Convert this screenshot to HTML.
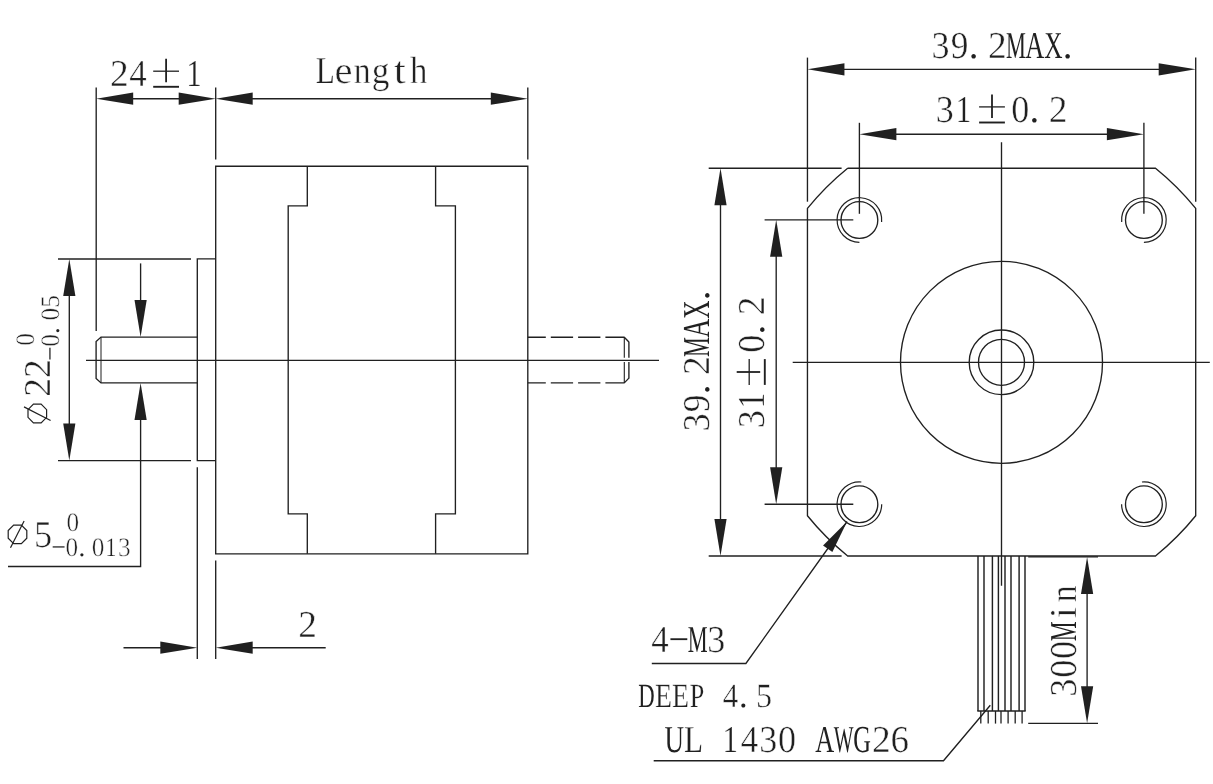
<!DOCTYPE html>
<html><head><meta charset="utf-8"><title>Stepper motor drawing</title>
<style>
html,body{margin:0;padding:0;background:#fff;}
body{width:1213px;height:784px;overflow:hidden;}
svg{display:block;}
svg text{font-family:"Liberation Serif",serif;fill:#231f20;stroke:#fff;vector-effect:non-scaling-stroke;paint-order:fill stroke;text-rendering:geometricPrecision;}
svg{filter:grayscale(1);}
</style></head><body>
<svg width="1213" height="784" viewBox="0 0 1213 784" fill="none" stroke="#231f20" stroke-linecap="butt" stroke-linejoin="miter">
<path d="M215.7,166.25 H527.8 V553.8 H215.7 Z" stroke-width="1.35"/>
<path d="M307.3,166.25 V205.9 H288.2 V513.8 H307.3 V553.8" stroke-width="1.35"/>
<path d="M435.6,166.25 V205.9 H455.4 V513.8 H435.6 V553.8" stroke-width="1.35"/>
<path d="M215.7,258.9 H197.3 V460.6 H215.7" stroke-width="1.35"/>
<path d="M197.3,337.1 H101 L96.1,341.6 V378.4 L101,382.9 H197.3" stroke-width="1.35"/>
<line x1="101" y1="337.1" x2="101" y2="382.9" stroke-width="1"/>
<line x1="527.8" y1="337.2" x2="624.6" y2="337.2" stroke-width="1.35" stroke-dasharray="22.3 5" stroke-dashoffset="4.3"/>
<line x1="527.8" y1="382.9" x2="624.6" y2="382.9" stroke-width="1.35" stroke-dasharray="22.3 5" stroke-dashoffset="4.3"/>
<line x1="624.3" y1="337.2" x2="628.9" y2="342" stroke-width="1.35"/>
<line x1="624.3" y1="382.9" x2="628.9" y2="378.1" stroke-width="1.35"/>
<line x1="628.9" y1="341.7" x2="628.9" y2="378.4" stroke-width="1.35" stroke-dasharray="16 4.4 20"/>
<line x1="624.3" y1="337.2" x2="624.3" y2="382.9" stroke-width="1.1" stroke-dasharray="20.5 4.4 22"/>
<line x1="86" y1="360.35" x2="659" y2="360.35" stroke-width="1.35"/>
<line x1="96.2" y1="87.5" x2="96.2" y2="331" stroke-width="1.35"/>
<line x1="215.7" y1="87.5" x2="215.7" y2="159.6" stroke-width="1.35"/>
<line x1="527.8" y1="87.5" x2="527.8" y2="159.6" stroke-width="1.35"/>
<line x1="126.2" y1="98.7" x2="185.7" y2="98.7" stroke-width="1.35"/>
<polygon points="96.2,98.7 133.2,92.6 133.2,104.8" fill="#231f20" stroke="none"/>
<polygon points="215.7,98.7 178.7,104.8 178.7,92.6" fill="#231f20" stroke="none"/>
<line x1="245.7" y1="98.7" x2="497.8" y2="98.7" stroke-width="1.35"/>
<polygon points="215.7,98.7 252.7,92.6 252.7,104.8" fill="#231f20" stroke="none"/>
<polygon points="527.8,98.7 490.8,104.8 490.8,92.6" fill="#231f20" stroke="none"/>
<text transform="translate(119.1,85.8) scale(0.9847,1)" x="-9.29" y="0" font-size="38" style="stroke-width:0.45px">2</text>
<text transform="translate(137.9,85.8) scale(0.9171,1)" x="-9.57" y="0" font-size="38" style="stroke-width:0.45px">4</text>
<line x1="153.2" y1="71.2" x2="179" y2="71.2" stroke-width="1.3"/>
<line x1="166.1" y1="58.7" x2="166.1" y2="82.2" stroke-width="1.8"/>
<line x1="153.2" y1="86.8" x2="179" y2="86.8" stroke-width="1.9"/>
<text transform="translate(194.3,85.8) scale(0.8148,1)" x="-10.03" y="0" font-size="38" style="stroke-width:0.25px">1</text>
<text transform="translate(324.7,82.5) scale(0.8218,1)" x="-11.01" y="0" font-size="38" style="stroke-width:0.25px">L</text>
<text transform="translate(343.5,82.5) scale(1.0665,1)" x="-8.52" y="0" font-size="38" style="stroke-width:0.45px">e</text>
<text transform="translate(362.3,82.5) scale(0.8888,1)" x="-9.65" y="0" font-size="38" style="stroke-width:0.45px">n</text>
<text transform="translate(381.1,82.5) scale(0.9313,1)" x="-9.95" y="0" font-size="38" style="stroke-width:0.45px">g</text>
<text transform="translate(399.9,82.5) scale(1.1441,1)" x="-5.35" y="0" font-size="38" style="stroke-width:0.45px">t</text>
<text transform="translate(418.7,82.5) scale(0.9157,1)" x="-9.44" y="0" font-size="38" style="stroke-width:0.45px">h</text>
<line x1="58" y1="259" x2="191" y2="259" stroke-width="1.35"/>
<line x1="58" y1="460.6" x2="191" y2="460.6" stroke-width="1.35"/>
<line x1="69.3" y1="289" x2="69.3" y2="430.6" stroke-width="1.35"/>
<polygon points="69.3,259 75.4,296 63.2,296" fill="#231f20" stroke="none"/>
<polygon points="69.3,460.6 63.2,423.6 75.4,423.6" fill="#231f20" stroke="none"/>
<line x1="140.6" y1="263.4" x2="140.6" y2="307.1" stroke-width="1.35"/>
<polygon points="140.6,337.1 134.5,300.1 146.7,300.1" fill="#231f20" stroke="none"/>
<polygon points="140.6,382.9 146.7,419.9 134.5,419.9" fill="#231f20" stroke="none"/>
<path d="M140.6,412.9 V566.5 H8" stroke-width="1.35"/>
<line x1="197.3" y1="467.3" x2="197.3" y2="659" stroke-width="1.35"/>
<line x1="215.7" y1="560.4" x2="215.7" y2="659" stroke-width="1.35"/>
<line x1="123.5" y1="647.7" x2="167.3" y2="647.7" stroke-width="1.35"/>
<polygon points="197.3,647.7 160.3,653.8 160.3,641.6" fill="#231f20" stroke="none"/>
<line x1="245.7" y1="647.7" x2="325.7" y2="647.7" stroke-width="1.35"/>
<polygon points="215.7,647.7 252.7,641.6 252.7,653.8" fill="#231f20" stroke="none"/>
<text transform="translate(307.3,637) scale(0.9847,1)" x="-9.29" y="0" font-size="38" style="stroke-width:0.45px">2</text>
<g transform="translate(17.5,547.4)">
<polygon points="9.3,-9.15 3.85,-3.7 -3.85,-3.7 -9.3,-9.15 -9.3,-16.85 -3.85,-22.3 3.85,-22.3 9.3,-16.85" stroke-width="1.2"/>
<line x1="-7" y1="0.3" x2="6.6" y2="-26.3" stroke-width="1.2"/>
<text transform="translate(26,0) scale(0.9538,1)" x="-9.86" y="0" font-size="38" style="stroke-width:0.45px">5</text>
<text transform="translate(41.2,3.31) scale(1.7121,0.65)" x="-4.44" y="0" font-size="26.6" style="stroke:none">-</text>
<text transform="translate(54.35,8.2) scale(0.9500,1)" x="-6.65" y="0" font-size="26.6" style="stroke-width:0.45px">0</text>
<text transform="translate(64.3,8.2) scale(1.0244,1)" x="-3.32" y="0" font-size="26.6" style="stroke:none">.</text>
<text transform="translate(80.65,8.2) scale(0.9500,1)" x="-6.65" y="0" font-size="26.6" style="stroke-width:0.45px">0</text>
<text transform="translate(93.8,8.2) scale(0.8148,1)" x="-7.02" y="0" font-size="26.6" style="stroke-width:0.25px">1</text>
<text transform="translate(106.95,8.2) scale(0.9492,1)" x="-6.77" y="0" font-size="26.6" style="stroke-width:0.45px">3</text>
<text transform="translate(55.35,-16) scale(0.9500,1)" x="-6.65" y="0" font-size="26.6" style="stroke-width:0.45px">0</text>
</g>
<g transform="translate(50.3,413.5) rotate(-90)">
<polygon points="9.3,-9.15 3.85,-3.7 -3.85,-3.7 -9.3,-9.15 -9.3,-16.85 -3.85,-22.3 3.85,-22.3 9.3,-16.85" stroke-width="1.2"/>
<line x1="-7" y1="0.3" x2="6.6" y2="-26.3" stroke-width="1.2"/>
<text transform="translate(26,0) scale(0.9847,1)" x="-9.29" y="0" font-size="38" style="stroke-width:0.45px">2</text>
<text transform="translate(44.6,0) scale(0.9847,1)" x="-9.29" y="0" font-size="38" style="stroke-width:0.45px">2</text>
<text transform="translate(59.8,3.31) scale(1.7121,0.65)" x="-4.44" y="0" font-size="26.6" style="stroke:none">-</text>
<text transform="translate(72.95,8.2) scale(0.9500,1)" x="-6.65" y="0" font-size="26.6" style="stroke-width:0.45px">0</text>
<text transform="translate(82.9,8.2) scale(1.0244,1)" x="-3.32" y="0" font-size="26.6" style="stroke:none">.</text>
<text transform="translate(99.25,8.2) scale(0.9500,1)" x="-6.65" y="0" font-size="26.6" style="stroke-width:0.45px">0</text>
<text transform="translate(112.4,8.2) scale(0.9538,1)" x="-6.9" y="0" font-size="26.6" style="stroke-width:0.45px">5</text>
<text transform="translate(73.95,-16) scale(0.9500,1)" x="-6.65" y="0" font-size="26.6" style="stroke-width:0.45px">0</text>
</g>
<path d="M847.6500000000001,168.2 H1155.5 A270,270 0 0 1 1195.7,208.39999999999998 V515.75 A270,270 0 0 1 1155.5,555.95 H847.6500000000001 A270,270 0 0 1 807.45,515.75 V208.39999999999998 A270,270 0 0 1 847.6500000000001,168.2" stroke-width="1.35"/>
<circle cx="1001.5" cy="362.3" r="101" stroke-width="1.35"/>
<circle cx="1001.5" cy="362.3" r="32.3" stroke-width="1.35"/>
<circle cx="1001.5" cy="362.3" r="23" stroke-width="1.35"/>
<circle cx="859.4" cy="220" r="18.4" stroke-width="1.35"/>
<circle cx="1143.9" cy="220" r="18.4" stroke-width="1.35"/>
<circle cx="859.4" cy="504.2" r="18.4" stroke-width="1.35"/>
<circle cx="1143.9" cy="504.2" r="18.4" stroke-width="1.35"/>
<path d="M881.62,221.94 A22.3,22.3 0 1 0 859.4,242.3" stroke-width="1.2"/>
<path d="M1121.68,221.94 A22.3,22.3 0 1 1 1143.9,242.3" stroke-width="1.2"/>
<path d="M861.34,481.98 A22.3,22.3 0 1 0 881.7,504.2" stroke-width="1.2"/>
<path d="M1141.96,481.98 A22.3,22.3 0 1 1 1121.6,504.2" stroke-width="1.2"/>
<line x1="1001.5" y1="142.3" x2="1001.5" y2="585.7" stroke-width="1.35"/>
<line x1="792.7" y1="362.3" x2="1209.8" y2="362.3" stroke-width="1.35"/>
<line x1="807.45" y1="57.6" x2="807.45" y2="201.7" stroke-width="1.35"/>
<line x1="1195.7" y1="57.6" x2="1195.7" y2="201.7" stroke-width="1.35"/>
<line x1="837.45" y1="69.3" x2="1165.7" y2="69.3" stroke-width="1.35"/>
<polygon points="807.45,69.3 844.45,63.2 844.45,75.4" fill="#231f20" stroke="none"/>
<polygon points="1195.7,69.3 1158.7,75.4 1158.7,63.2" fill="#231f20" stroke="none"/>
<text transform="translate(940.7,57.6) scale(0.9492,1)" x="-9.67" y="0" font-size="38" style="stroke-width:0.45px">3</text>
<text transform="translate(959.5,57.6) scale(0.9311,1)" x="-9.33" y="0" font-size="38" style="stroke-width:0.45px">9</text>
<text transform="translate(973.6,57.6) scale(1.0244,1)" x="-4.75" y="0" font-size="38" style="stroke:none">.</text>
<text transform="translate(997.1,57.6) scale(0.9847,1)" x="-9.29" y="0" font-size="38" style="stroke-width:0.45px">2</text>
<text transform="translate(1015.9,57.6) scale(0.5890,1)" x="-16.88" y="0" font-size="38" style="stroke:none">M</text>
<text transform="translate(1034.7,57.6) scale(0.6905,1)" x="-13.77" y="0" font-size="38" style="stroke:none">A</text>
<text transform="translate(1053.5,57.6) scale(0.6674,1)" x="-13.8" y="0" font-size="38" style="stroke:none">X</text>
<text transform="translate(1067.6,57.6) scale(1.0244,1)" x="-4.75" y="0" font-size="38" style="stroke:none">.</text>
<line x1="859.4" y1="122.8" x2="859.4" y2="213.8" stroke-width="1.35"/>
<line x1="1143.9" y1="122.8" x2="1143.9" y2="213.8" stroke-width="1.35"/>
<line x1="889.4" y1="134.2" x2="1113.9" y2="134.2" stroke-width="1.35"/>
<polygon points="859.4,134.2 896.4,128.1 896.4,140.3" fill="#231f20" stroke="none"/>
<polygon points="1143.9,134.2 1106.9,140.3 1106.9,128.1" fill="#231f20" stroke="none"/>
<text transform="translate(945,121.5) scale(0.9492,1)" x="-9.67" y="0" font-size="38" style="stroke-width:0.45px">3</text>
<text transform="translate(963.8,121.5) scale(0.8148,1)" x="-10.03" y="0" font-size="38" style="stroke-width:0.25px">1</text>
<line x1="979.1" y1="106.9" x2="1004.9" y2="106.9" stroke-width="1.3"/>
<line x1="992" y1="94.4" x2="992" y2="117.9" stroke-width="1.8"/>
<line x1="979.1" y1="122.5" x2="1004.9" y2="122.5" stroke-width="1.9"/>
<text transform="translate(1020.2,121.5) scale(0.9500,1)" x="-9.5" y="0" font-size="38" style="stroke-width:0.45px">0</text>
<text transform="translate(1034.3,121.5) scale(1.0244,1)" x="-4.75" y="0" font-size="38" style="stroke:none">.</text>
<text transform="translate(1057.8,121.5) scale(0.9847,1)" x="-9.29" y="0" font-size="38" style="stroke-width:0.45px">2</text>
<line x1="708.7" y1="168.2" x2="841.6" y2="168.2" stroke-width="1.35"/>
<line x1="708.7" y1="555.95" x2="841.6" y2="555.95" stroke-width="1.35"/>
<line x1="720.5" y1="198.2" x2="720.5" y2="525.95" stroke-width="1.35"/>
<polygon points="720.5,168.2 726.6,205.2 714.4,205.2" fill="#231f20" stroke="none"/>
<polygon points="720.5,555.95 714.4,518.95 726.6,518.95" fill="#231f20" stroke="none"/>
<line x1="764.6" y1="219.8" x2="853.3" y2="219.8" stroke-width="1.35"/>
<line x1="764.6" y1="504.2" x2="853.3" y2="504.2" stroke-width="1.35"/>
<line x1="776.2" y1="250" x2="776.2" y2="474.2" stroke-width="1.35"/>
<polygon points="776.2,219.8 782.3,256.8 770.1,256.8" fill="#231f20" stroke="none"/>
<polygon points="776.2,504.2 770.1,467.2 782.3,467.2" fill="#231f20" stroke="none"/>
<g transform="translate(709.4,0) rotate(-90)">
<text transform="translate(-422.3,0) scale(0.9492,1)" x="-9.67" y="0" font-size="38" style="stroke-width:0.45px">3</text>
<text transform="translate(-403.5,0) scale(0.9311,1)" x="-9.33" y="0" font-size="38" style="stroke-width:0.45px">9</text>
<text transform="translate(-389.4,0) scale(1.0244,1)" x="-4.75" y="0" font-size="38" style="stroke:none">.</text>
<text transform="translate(-365.9,0) scale(0.9847,1)" x="-9.29" y="0" font-size="38" style="stroke-width:0.45px">2</text>
<text transform="translate(-347.1,0) scale(0.5890,1)" x="-16.88" y="0" font-size="38" style="stroke:none">M</text>
<text transform="translate(-328.3,0) scale(0.6905,1)" x="-13.77" y="0" font-size="38" style="stroke:none">A</text>
<text transform="translate(-309.5,0) scale(0.6674,1)" x="-13.8" y="0" font-size="38" style="stroke:none">X</text>
<text transform="translate(-295.4,0) scale(1.0244,1)" x="-4.75" y="0" font-size="38" style="stroke:none">.</text>
</g>
<g transform="translate(763.8,0) rotate(-90)">
<text transform="translate(-419,0) scale(0.9492,1)" x="-9.67" y="0" font-size="38" style="stroke-width:0.45px">3</text>
<text transform="translate(-400.2,0) scale(0.8148,1)" x="-10.03" y="0" font-size="38" style="stroke-width:0.25px">1</text>
<line x1="-384.9" y1="-14.6" x2="-359.1" y2="-14.6" stroke-width="1.3"/>
<line x1="-372" y1="-27.1" x2="-372" y2="-3.6" stroke-width="1.8"/>
<line x1="-384.9" y1="1" x2="-359.1" y2="1" stroke-width="1.9"/>
<text transform="translate(-343.8,0) scale(0.9500,1)" x="-9.5" y="0" font-size="38" style="stroke-width:0.45px">0</text>
<text transform="translate(-329.7,0) scale(1.0244,1)" x="-4.75" y="0" font-size="38" style="stroke:none">.</text>
<text transform="translate(-306.2,0) scale(0.9847,1)" x="-9.29" y="0" font-size="38" style="stroke-width:0.45px">2</text>
</g>
<line x1="978" y1="555.95" x2="978" y2="711" stroke-width="1.45"/>
<line x1="984" y1="555.95" x2="984" y2="711" stroke-width="1.45"/>
<line x1="992.4" y1="555.95" x2="992.4" y2="711" stroke-width="1.45"/>
<line x1="998.4" y1="555.95" x2="998.4" y2="711" stroke-width="1.45"/>
<line x1="1005" y1="555.95" x2="1005" y2="711" stroke-width="1.45"/>
<line x1="1011" y1="555.95" x2="1011" y2="711" stroke-width="1.45"/>
<line x1="1019.1" y1="555.95" x2="1019.1" y2="711" stroke-width="1.45"/>
<line x1="1025" y1="555.95" x2="1025" y2="711" stroke-width="1.45"/>
<line x1="977.3" y1="711" x2="1025.7" y2="711" stroke-width="1.45"/>
<line x1="980.8" y1="711" x2="980.8" y2="723.6" stroke-width="1.3"/>
<line x1="988.2" y1="711" x2="988.2" y2="723.6" stroke-width="1.3"/>
<line x1="995.5" y1="711" x2="995.5" y2="723.6" stroke-width="1.3"/>
<line x1="1001" y1="711" x2="1001" y2="723.6" stroke-width="1.3"/>
<line x1="1008.1" y1="711" x2="1008.1" y2="723.6" stroke-width="1.3"/>
<line x1="1015.2" y1="711" x2="1015.2" y2="723.6" stroke-width="1.3"/>
<line x1="1022.1" y1="711" x2="1022.1" y2="723.6" stroke-width="1.3"/>
<line x1="1028.2" y1="556.9" x2="1098" y2="556.9" stroke-width="1.35"/>
<line x1="1028.2" y1="723.3" x2="1098" y2="723.3" stroke-width="1.35"/>
<line x1="1087.1" y1="586.9" x2="1087.1" y2="693.3" stroke-width="1.35"/>
<polygon points="1087.1,556.9 1093.2,593.9 1081,593.9" fill="#231f20" stroke="none"/>
<polygon points="1087.1,723.3 1081,686.3 1093.2,686.3" fill="#231f20" stroke="none"/>
<g transform="translate(1075.8,0) rotate(-90)">
<text transform="translate(-687.5,0) scale(0.9492,1)" x="-9.67" y="0" font-size="38" style="stroke-width:0.45px">3</text>
<text transform="translate(-668.76,0) scale(0.9500,1)" x="-9.5" y="0" font-size="38" style="stroke-width:0.45px">0</text>
<text transform="translate(-650.02,0) scale(0.9500,1)" x="-9.5" y="0" font-size="38" style="stroke-width:0.45px">0</text>
<text transform="translate(-631.28,0) scale(0.5890,1)" x="-16.88" y="0" font-size="38" style="stroke:none">M</text>
<text transform="translate(-612.54,0) scale(1.0624,1)" x="-5.32" y="0" font-size="38" style="stroke-width:0.45px">i</text>
<text transform="translate(-593.8,0) scale(0.8888,1)" x="-9.65" y="0" font-size="38" style="stroke-width:0.45px">n</text>
</g>
<path d="M651.8,663.5 H745.9 L847.1,521.5" stroke-width="1.35"/>
<polygon points="847.1,521.5 832.36,552.01 823.07,545.39" fill="#231f20" stroke="none"/>
<text transform="translate(660,652.4) scale(0.9171,1)" x="-9.57" y="0" font-size="38" style="stroke-width:0.45px">4</text>
<text transform="translate(678.8,645.42) scale(1.7121,0.65)" x="-6.35" y="0" font-size="38" style="stroke:none">-</text>
<text transform="translate(697.6,652.4) scale(0.5890,1)" x="-16.88" y="0" font-size="38" style="stroke:none">M</text>
<text transform="translate(716.4,652.4) scale(0.9492,1)" x="-9.67" y="0" font-size="38" style="stroke-width:0.45px">3</text>
<text transform="translate(646.4,707.4) scale(0.6727,1)" x="-12.02" y="0" font-size="33.82" style="stroke:none">D</text>
<text transform="translate(663.25,707.4) scale(0.8208,1)" x="-9.97" y="0" font-size="33.82" style="stroke-width:0.25px">E</text>
<text transform="translate(680.1,707.4) scale(0.8208,1)" x="-9.97" y="0" font-size="33.82" style="stroke-width:0.25px">E</text>
<text transform="translate(696.95,707.4) scale(0.7722,1)" x="-9.21" y="0" font-size="33.82" style="stroke-width:0.25px">P</text>
<text transform="translate(730.65,707.4) scale(0.9171,1)" x="-8.52" y="0" font-size="33.82" style="stroke-width:0.45px">4</text>
<text transform="translate(743.32,707.4) scale(1.0244,1)" x="-4.23" y="0" font-size="33.82" style="stroke:none">.</text>
<text transform="translate(764.35,707.4) scale(0.9538,1)" x="-8.78" y="0" font-size="33.82" style="stroke-width:0.45px">5</text>
<text transform="translate(674.3,751.6) scale(0.7119,1)" x="-13.72" y="0" font-size="38" style="stroke:none">U</text>
<text transform="translate(693.1,751.6) scale(0.8218,1)" x="-11.01" y="0" font-size="38" style="stroke-width:0.25px">L</text>
<text transform="translate(730.7,751.6) scale(0.8148,1)" x="-10.03" y="0" font-size="38" style="stroke-width:0.25px">1</text>
<text transform="translate(749.5,751.6) scale(0.9171,1)" x="-9.57" y="0" font-size="38" style="stroke-width:0.45px">4</text>
<text transform="translate(768.3,751.6) scale(0.9492,1)" x="-9.67" y="0" font-size="38" style="stroke-width:0.45px">3</text>
<text transform="translate(787.1,751.6) scale(0.9500,1)" x="-9.5" y="0" font-size="38" style="stroke-width:0.45px">0</text>
<text transform="translate(824.7,751.6) scale(0.6905,1)" x="-13.77" y="0" font-size="38" style="stroke:none">A</text>
<text transform="translate(843.5,751.6) scale(0.5510,1)" x="-17.91" y="0" font-size="38" style="stroke:none">W</text>
<text transform="translate(862.3,751.6) scale(0.6438,1)" x="-13.91" y="0" font-size="38" style="stroke:none">G</text>
<text transform="translate(881.1,751.6) scale(0.9847,1)" x="-9.29" y="0" font-size="38" style="stroke-width:0.45px">2</text>
<text transform="translate(899.9,751.6) scale(0.9732,1)" x="-9.75" y="0" font-size="38" style="stroke-width:0.45px">6</text>
<path d="M653.7,760.7 H943.5 L990.3,705.2" stroke-width="1.35"/>
</svg>
</body></html>
